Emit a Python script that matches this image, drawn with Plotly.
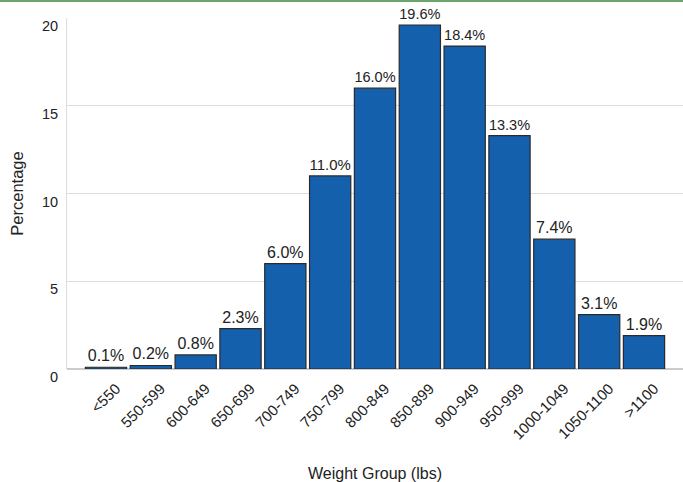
import plotly.graph_objects as go

categories = ["<550", "550-599", "600-649", "650-699", "700-749", "750-799", "800-849",
              "850-899", "900-949", "950-999", "1000-1049", "1050-1100", ">1100"]
values = [0.1, 0.2, 0.8, 2.3, 6.0, 11.0, 16.0, 19.6, 18.4, 13.3, 7.4, 3.1, 1.9]
labels = [f"{v:.1f}%" for v in values]

font = "Liberation Sans, Arial, Helvetica, sans-serif"

fig = go.Figure(go.Bar(
    x=categories, y=values, text=labels, textposition="outside",
    textfont=dict(size=16, color="#222222", family=font),
    marker=dict(color="#1560AD", line=dict(color="#2a2a2a", width=1.2)),
    width=0.92, cliponaxis=False,
))

fig.update_layout(
    width=683, height=482,
    margin=dict(l=67, r=0, t=18, b=113),
    plot_bgcolor="white", paper_bgcolor="white",
    font=dict(family=font, color="#222222", size=14),
    showlegend=False,
    xaxis=dict(
        range=[-0.87, 12.87], tickangle=-45, tickfont=dict(size=15, color="#222222"),
        showgrid=False, showline=False, ticks="",
        ticklabelstandoff=7, ticklabelshift=10,
        title=dict(text="Weight Group (lbs)", font=dict(size=16), standoff=28),
    ),
    yaxis=dict(
        range=[0, 20], tickvals=[0, 5, 10, 15, 20], showgrid=True, gridcolor="#dddddd",
        gridwidth=1, zeroline=True, zerolinecolor="#cccccc", zerolinewidth=1.5,
        showline=True, linecolor="#dddddd", linewidth=1,
        tickfont=dict(size=14.5, color="#222222"), ticklabelstandoff=5, ticklabelshift=8,
        title=dict(text="Percentage", font=dict(size=16.5), standoff=14),
    ),
    shapes=[dict(type="rect", xref="paper", yref="paper", x0=-0.2, x1=1.0,
                 y0=1.0 + 16 / 351, y1=1.0 + 18 / 351,
                 fillcolor="#6aa56a", line=dict(width=0), layer="above")],
)

fig.write_html("out.html")
